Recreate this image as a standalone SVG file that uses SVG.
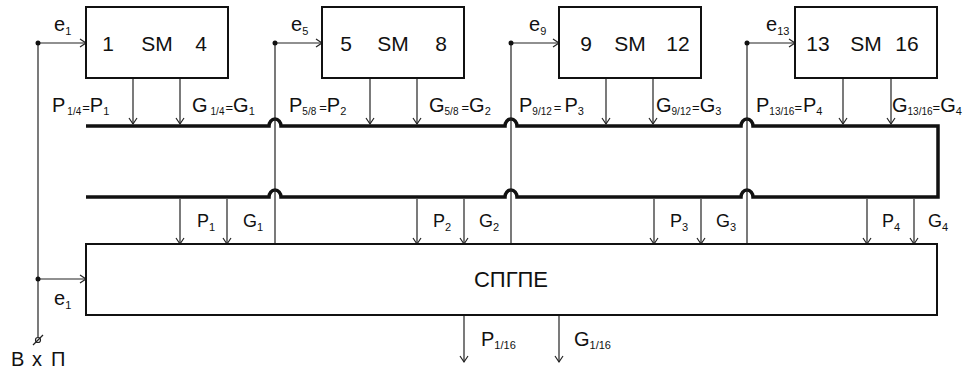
<svg xmlns="http://www.w3.org/2000/svg" width="971" height="371" viewBox="0 0 971 371">
<style>
.box{fill:#fff;stroke:#111;stroke-width:2}
.ln{fill:none;stroke:#222;stroke-width:1.2}
.ar{fill:none;stroke:#222;stroke-width:1.2;marker-end:url(#a)}
.bus{fill:none;stroke:#111;stroke-width:3.5;stroke-linejoin:miter}
text{font-family:"Liberation Sans",Arial,sans-serif;fill:#111}
.big{font-size:21px}
.lab{font-size:20px}
.low{font-size:18px}
.sub{font-size:11px}
.fr{font-size:10px}
.eq{font-size:13px}
.mid{text-anchor:middle}
</style>
<defs>
<marker id="a" markerWidth="10" markerHeight="10" refX="7" refY="5" orient="auto" markerUnits="userSpaceOnUse">
<path d="M1,1 L7,5 L1,9" fill="none" stroke="#222" stroke-width="1.2"/>
</marker>
</defs>

<g id="connectors">
<path class="bus" d="M86,126 H269 A6,7 0 0 1 281,126 H505 A6,7 0 0 1 517,126 H741 A6,7 0 0 1 753,126 H938 V197 H753 A6,7 0 0 0 741,197 H517 A6,7 0 0 0 505,197 H281 A6,7 0 0 0 269,197 H86"/>
<path class="ln" d="M38,43 V337"/>
<circle cx="38" cy="340" r="2.5" fill="none" stroke="#222" stroke-width="1.2"/>
<path class="ln" d="M33,345 L43,335"/>
<path class="ln" d="M275,43 V244 M511,43 V244 M747,43 V244"/>
<path class="ar" d="M38,43 H86"/>
<path class="ar" d="M275,43 H322"/>
<path class="ar" d="M511,43 H559"/>
<path class="ar" d="M747,43 H795"/>
<path class="ar" d="M38,279 H86"/>
<path class="ar" d="M133,78 V124"/>
<path class="ar" d="M180,78 V124"/>
<path class="ar" d="M370,78 V124"/>
<path class="ar" d="M417,78 V124"/>
<path class="ar" d="M606,78 V124"/>
<path class="ar" d="M653,78 V124"/>
<path class="ar" d="M843,78 V124"/>
<path class="ar" d="M891,78 V124"/>
<path class="ar" d="M180,199 V244"/>
<path class="ar" d="M227,199 V244"/>
<path class="ar" d="M417,199 V244"/>
<path class="ar" d="M464,199 V244"/>
<path class="ar" d="M654,199 V244"/>
<path class="ar" d="M701,199 V244"/>
<path class="ar" d="M867,199 V244"/>
<path class="ar" d="M914,199 V244"/>
<path class="ar" d="M464,315 V362"/>
<path class="ar" d="M559,315 V362"/>
<circle cx="38" cy="43" r="2.5" fill="#111"/>
<circle cx="275" cy="43" r="2.5" fill="#111"/>
<circle cx="511" cy="43" r="2.5" fill="#111"/>
<circle cx="747" cy="43" r="2.5" fill="#111"/>
<circle cx="38" cy="279" r="2.5" fill="#111"/>
</g>

<g id="sm1">
<rect class="box" x="86" y="7" width="142" height="71"/>
<text class="big mid" x="108" y="51">1</text>
<text class="big mid" x="157" y="51">SM</text>
<text class="big mid" x="201" y="51">4</text>
</g>
<g id="sm2">
<rect class="box" x="322" y="7" width="142" height="71"/>
<text class="big mid" x="346" y="51">5</text>
<text class="big mid" x="393" y="51">SM</text>
<text class="big mid" x="441" y="51">8</text>
</g>
<g id="sm3">
<rect class="box" x="559" y="7" width="142" height="71"/>
<text class="big mid" x="586" y="51">9</text>
<text class="big mid" x="630" y="51">SM</text>
<text class="big mid" x="678" y="51">12</text>
</g>
<g id="sm4">
<rect class="box" x="795" y="7" width="142" height="71"/>
<text class="big mid" x="818" y="51">13</text>
<text class="big mid" x="866" y="51">SM</text>
<text class="big mid" x="907" y="51">16</text>
</g>

<g id="spgpe">
<rect class="box" x="86" y="244" width="851" height="71"/>
<text class="mid" x="511" y="287" style="font-size:22px">СПГПЕ</text>
</g>

<g id="labels">
<text class="lab" x="54" y="31">e<tspan class="sub" dy="4">1</tspan></text>
<text class="lab" x="291" y="31">e<tspan class="sub" dy="4">5</tspan></text>
<text class="lab" x="529" y="31">e<tspan class="sub" dy="4">9</tspan></text>
<text class="lab" x="766" y="31">e<tspan class="sub" dy="4">13</tspan></text>
<text class="lab" x="54" y="305">e<tspan class="sub" dy="4">1</tspan></text>

<text class="lab" x="52" y="112">P<tspan class="fr" dx="2" dy="3">1/4</tspan><tspan class="eq" dx="1" dy="-3">=</tspan><tspan>P</tspan><tspan class="sub" dy="3">1</tspan></text>
<text class="lab" x="192" y="112">G<tspan class="fr" dx="3" dy="3">1/4</tspan><tspan class="eq" dx="1" dy="-3">=</tspan><tspan>G</tspan><tspan class="sub" dy="3">1</tspan></text>
<text class="lab" x="289" y="112">P<tspan class="fr" dy="3">5/8</tspan><tspan class="eq" dx="3" dy="-3">=</tspan><tspan>P</tspan><tspan class="sub" dy="3">2</tspan></text>
<text class="lab" x="429" y="112">G<tspan class="fr" dy="3">5/8</tspan><tspan class="eq" dx="3" dy="-3">=</tspan><tspan>G</tspan><tspan class="sub" dy="3">2</tspan></text>
<text class="lab" x="519" y="112">P<tspan class="fr" dy="3">9/12</tspan><tspan class="eq" dx="2" dy="-3">=</tspan><tspan dx="3">P</tspan><tspan class="sub" dy="3">3</tspan></text>
<text class="lab" x="656" y="112">G<tspan class="fr" dy="3">9/12</tspan><tspan class="eq" dx="1" dy="-3">=</tspan><tspan>G</tspan><tspan class="sub" dy="3">3</tspan></text>
<text class="lab" x="756" y="112">P<tspan class="fr" dy="3">13/16</tspan><tspan class="eq" dy="-3">=</tspan><tspan dx="1">P</tspan><tspan class="sub" dy="3">4</tspan></text>
<text class="lab" x="892" y="112">G<tspan class="fr" dy="3">13/16</tspan><tspan class="eq" dy="-3">=</tspan><tspan>G</tspan><tspan class="sub" dy="3">4</tspan></text>

<text class="low" x="197" y="227">P<tspan class="sub" dy="4">1</tspan></text>
<text class="low" x="243" y="227">G<tspan class="sub" dy="4">1</tspan></text>
<text class="low" x="433" y="227">P<tspan class="sub" dy="4">2</tspan></text>
<text class="low" x="479" y="227">G<tspan class="sub" dy="4">2</tspan></text>
<text class="low" x="670" y="227">P<tspan class="sub" dy="4">3</tspan></text>
<text class="low" x="716" y="227">G<tspan class="sub" dy="4">3</tspan></text>
<text class="low" x="882" y="227">P<tspan class="sub" dy="4">4</tspan></text>
<text class="low" x="928" y="227">G<tspan class="sub" dy="4">4</tspan></text>

<text class="lab" x="481" y="346">P<tspan class="sub" dy="3">1/16</tspan></text>
<text class="lab" x="574" y="346">G<tspan class="sub" dy="3">1/16</tspan></text>

<text class="lab" y="366"><tspan x="11">В</tspan><tspan x="32">х</tspan><tspan x="51">П</tspan></text>
</g>
</svg>
